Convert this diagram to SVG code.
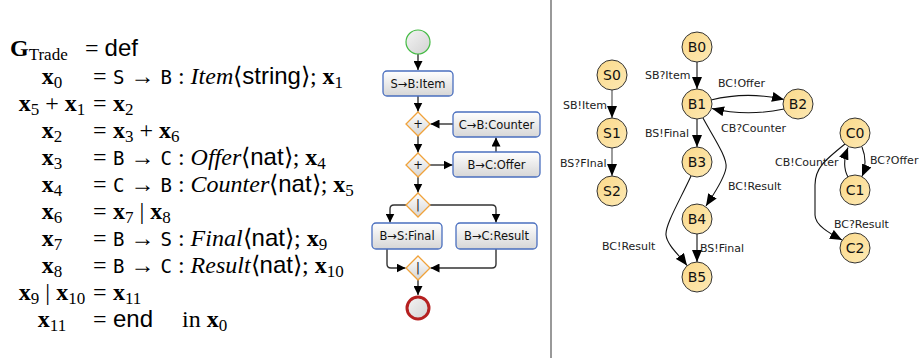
<svg xmlns="http://www.w3.org/2000/svg" width="920" height="361" viewBox="0 0 920 361">
<style>
.m{font-family:"Liberation Serif",serif;font-size:24px;fill:#000}
.b{font-weight:bold}
.sub{font-weight:normal;font-size:17px}
.it{font-style:italic}
.sf{font-family:"Liberation Sans",sans-serif}
.tt{font-family:"DejaVu Sans Mono",monospace;font-size:19px}
.fbox{fill:url(#gbox);stroke:#4a6fbf;stroke-width:1.3}
.dia{fill:url(#gbox);stroke:#f0a23a;stroke-width:1.3}
.ft{font-family:"DejaVu Sans",sans-serif;font-size:11.5px;fill:#111;text-anchor:middle}
.fl{fill:none;stroke:#333;stroke-width:1.4;marker-end:url(#fa)}
.st{fill:url(#gst);stroke:#333;stroke-width:1}
.sl{font-family:"DejaVu Sans",sans-serif;font-size:14px;fill:#111;text-anchor:middle}
.lb{font-family:"DejaVu Sans",sans-serif;font-size:11px;fill:#222}
.e{fill:none;stroke:#111;stroke-width:1.1;marker-end:url(#sa)}
.eg{fill:none;stroke:#666;stroke-width:1.3;marker-end:url(#sa)}
</style>
<defs>
<linearGradient id="gbox" x1="0" y1="0" x2="0" y2="1"><stop offset="0" stop-color="#ffffff"/><stop offset="1" stop-color="#d6d6d6"/></linearGradient>
<linearGradient id="gcirc" x1="0" y1="0" x2="1" y2="1"><stop offset="0" stop-color="#f4f4f4"/><stop offset="1" stop-color="#d2d2d2"/></linearGradient>
<linearGradient id="gst" x1="0" y1="0" x2="1" y2="1"><stop offset="0" stop-color="#fbd98a"/><stop offset="1" stop-color="#fde9b4"/></linearGradient>
<marker id="fa" viewBox="0 0 10 10" refX="10" refY="5" markerWidth="9" markerHeight="9" orient="auto" markerUnits="userSpaceOnUse"><path d="M0,0 L10,5 L0,10 z" fill="#000"/></marker>
<marker id="sa" viewBox="0 0 12 10" refX="12" refY="5" markerWidth="12" markerHeight="10" orient="auto" markerUnits="userSpaceOnUse"><path d="M0,0 L12,5 L0,10 z" fill="#000"/></marker>
</defs>
<rect width="920" height="361" fill="#fff"/>

<g id="equations">
<text x="10" y="56" class="m b">G<tspan class="sub" dy="4">Trade</tspan></text>
<text x="85" y="56" class="m">= <tspan class="sf">def</tspan></text>

<text x="52" y="84" class="m b" text-anchor="middle">x<tspan class="sub" dy="4">0</tspan></text>
<text x="93" y="84" class="m">=</text>
<text x="113" y="84" class="m"><tspan class="tt">S</tspan> → <tspan class="tt">B</tspan> : <tspan class="it">Item</tspan>⟨<tspan class="sf">string</tspan>⟩; <tspan class="b">x</tspan><tspan class="sub" dy="4">1</tspan></text>

<text x="52" y="111" class="m" text-anchor="middle"><tspan class="b">x</tspan><tspan class="sub" dy="4">5</tspan><tspan dy="-4"> + </tspan><tspan class="b">x</tspan><tspan class="sub" dy="4">1</tspan></text>
<text x="93" y="111" class="m">=</text>
<text x="113" y="111" class="m b">x<tspan class="sub" dy="4">2</tspan></text>

<text x="52" y="138" class="m b" text-anchor="middle">x<tspan class="sub" dy="4">2</tspan></text>
<text x="93" y="138" class="m">=</text>
<text x="113" y="138" class="m"><tspan class="b">x</tspan><tspan class="sub" dy="4">3</tspan><tspan dy="-4"> + </tspan><tspan class="b">x</tspan><tspan class="sub" dy="4">6</tspan></text>

<text x="52" y="165" class="m b" text-anchor="middle">x<tspan class="sub" dy="4">3</tspan></text>
<text x="93" y="165" class="m">=</text>
<text x="113" y="165" class="m"><tspan class="tt">B</tspan> → <tspan class="tt">C</tspan> : <tspan class="it">Offer</tspan>⟨<tspan class="sf">nat</tspan>⟩; <tspan class="b">x</tspan><tspan class="sub" dy="4">4</tspan></text>

<text x="52" y="192" class="m b" text-anchor="middle">x<tspan class="sub" dy="4">4</tspan></text>
<text x="93" y="192" class="m">=</text>
<text x="113" y="192" class="m"><tspan class="tt">C</tspan> → <tspan class="tt">B</tspan> : <tspan class="it">Counter</tspan>⟨<tspan class="sf">nat</tspan>⟩; <tspan class="b">x</tspan><tspan class="sub" dy="4">5</tspan></text>

<text x="52" y="219" class="m b" text-anchor="middle">x<tspan class="sub" dy="4">6</tspan></text>
<text x="93" y="219" class="m">=</text>
<text x="113" y="219" class="m"><tspan class="b">x</tspan><tspan class="sub" dy="4">7</tspan><tspan dy="-4"> | </tspan><tspan class="b">x</tspan><tspan class="sub" dy="4">8</tspan></text>

<text x="52" y="246" class="m b" text-anchor="middle">x<tspan class="sub" dy="4">7</tspan></text>
<text x="93" y="246" class="m">=</text>
<text x="113" y="246" class="m"><tspan class="tt">B</tspan> → <tspan class="tt">S</tspan> : <tspan class="it">Final</tspan>⟨<tspan class="sf">nat</tspan>⟩; <tspan class="b">x</tspan><tspan class="sub" dy="4">9</tspan></text>

<text x="52" y="273" class="m b" text-anchor="middle">x<tspan class="sub" dy="4">8</tspan></text>
<text x="93" y="273" class="m">=</text>
<text x="113" y="273" class="m"><tspan class="tt">B</tspan> → <tspan class="tt">C</tspan> : <tspan class="it">Result</tspan>⟨<tspan class="sf">nat</tspan>⟩; <tspan class="b">x</tspan><tspan class="sub" dy="4">10</tspan></text>

<text x="52" y="300" class="m" text-anchor="middle"><tspan class="b">x</tspan><tspan class="sub" dy="4">9</tspan><tspan dy="-4"> | </tspan><tspan class="b">x</tspan><tspan class="sub" dy="4">10</tspan></text>
<text x="93" y="300" class="m">=</text>
<text x="113" y="300" class="m b">x<tspan class="sub" dy="4">11</tspan></text>

<text x="52" y="327" class="m b" text-anchor="middle">x<tspan class="sub" dy="4">11</tspan></text>
<text x="93" y="327" class="m">=</text>
<text x="113" y="327" class="m"><tspan class="sf">end</tspan><tspan x="182">in </tspan><tspan class="b">x</tspan><tspan class="sub" dy="4">0</tspan></text>
</g>

<g id="flow-connectors">
<path class="fl" d="M418,54 L418,70"/>
<path class="fl" d="M418,96 L418,111.5"/>
<path class="fl" d="M453,124 L430.5,124"/>
<path class="fl" d="M418,136 L418,152.5"/>
<path class="fl" d="M430,165 L452.5,165"/>
<path class="fl" d="M496,152 L496,137.5"/>
<path class="fl" d="M418,177 L418,192.5"/>
<path class="fl" d="M406,205 L394,205 Q390,205 390,209 L390,222.5"/>
<path class="fl" d="M430,205 L492,205 Q496,205 496,209 L496,222.5"/>
<path class="fl" d="M387,249 L387,264 Q387,268 391,268 L405.5,268"/>
<path class="fl" d="M496,249 L496,264 Q496,268 492,268 L430.5,268"/>
<path class="fl" d="M418,280 L418,295"/>
</g>

<g id="flow-start"><circle cx="418" cy="42" r="12" fill="url(#gcirc)" stroke="#44bb44" stroke-width="1.2"/></g>
<g id="flow-item"><rect class="fbox" x="383" y="71" width="70" height="25" rx="4"/><text class="ft" x="418" y="87.5">S→B:Item</text></g>
<g id="flow-join1"><path class="dia" d="M418,112 L430,124 L418,136 L406,124 z"/><text class="ft" x="418" y="128">+</text></g>
<g id="flow-counter"><rect class="fbox" x="453" y="112" width="87" height="25" rx="4"/><text class="ft" x="496.5" y="128.5">C→B:Counter</text></g>
<g id="flow-choice"><path class="dia" d="M418,153 L430,165 L418,177 L406,165 z"/><text class="ft" x="418" y="169">+</text></g>
<g id="flow-offer"><rect class="fbox" x="453" y="152" width="87" height="25" rx="4"/><text class="ft" x="496.5" y="168.5">B→C:Offer</text></g>
<g id="flow-fork"><path class="dia" d="M418,193 L430,205 L418,217 L406,205 z"/><text class="ft" x="418" y="209">|</text></g>
<g id="flow-final"><rect class="fbox" x="372" y="223" width="70" height="26" rx="4"/><text class="ft" x="407" y="240">B→S:Final</text></g>
<g id="flow-result"><rect class="fbox" x="456" y="223" width="81" height="26" rx="4"/><text class="ft" x="496.5" y="240">B→C:Result</text></g>
<g id="flow-joinpar"><path class="dia" d="M418,256 L430,268 L418,280 L406,268 z"/><text class="ft" x="418" y="272">|</text></g>
<g id="flow-end"><circle cx="418" cy="308" r="11" fill="url(#gcirc)" stroke="#b52020" stroke-width="3"/></g>

<line x1="551" y1="0" x2="551" y2="358" stroke="#777" stroke-width="1.5"/>

<g id="fsm-connectors">
<path class="eg" d="M612,90 L612,118"/>
<path class="eg" d="M612,148 L612,176"/>
<path class="e" d="M697,62 L697,89"/>
<path class="e" d="M711,100 C735,94 760,94 784,99.5"/>
<path class="e" d="M784,109 C760,114 735,114 712,108.5"/>
<path class="e" d="M697,119 L697,147"/>
<path class="e" d="M703,118 C712,135 728,158 726,168 C724,180 713,195 706,206"/>
<path class="e" d="M691,176 C680,200 665,225 666,235 C667,245 680,256 687,265.5"/>
<path class="e" d="M697,234 L697,262"/>
<path class="e" d="M862,147 C866,157 866,167 862,176.5"/>
<path class="e" d="M848,177 C843,168 844,158 848,147.5"/>
<path class="e" d="M845,144 C825,160 815,168 815,185 L815,215 C815,225 829,233 842,240"/>
<text class="lb" x="563" y="109">SB!Item</text>
<text class="lb" x="560" y="167">BS?FInal</text>
<text class="lb" x="645" y="79">SB?Item</text>
<text class="lb" x="645" y="137">BS!Final</text>
<text class="lb" x="718" y="87">BC!Offer</text>
<text class="lb" x="721" y="132">CB?Counter</text>
<text class="lb" x="728" y="190">BC!Result</text>
<text class="lb" x="602" y="250">BC!Result</text>
<text class="lb" x="700" y="252">BS!Final</text>
<text class="lb" x="775" y="166">CB!Counter</text>
<text class="lb" x="870" y="164">BC?Offer</text>
<text class="lb" x="834" y="228">BC?Result</text>
</g>

<g id="S0"><circle class="st" cx="612" cy="75" r="15"/><text class="sl" x="612" y="80">S0</text></g>
<g id="S1"><circle class="st" cx="612" cy="133" r="15"/><text class="sl" x="612" y="138">S1</text></g>
<g id="S2"><circle class="st" cx="612" cy="191" r="15"/><text class="sl" x="612" y="196">S2</text></g>
<g id="B0"><circle class="st" cx="697" cy="47" r="15"/><text class="sl" x="697" y="52">B0</text></g>
<g id="B1"><circle class="st" cx="697" cy="104" r="15"/><text class="sl" x="697" y="109">B1</text></g>
<g id="B2"><circle class="st" cx="798" cy="104" r="15"/><text class="sl" x="798" y="109">B2</text></g>
<g id="B3"><circle class="st" cx="697" cy="162" r="15"/><text class="sl" x="697" y="167">B3</text></g>
<g id="B4"><circle class="st" cx="697" cy="219" r="15"/><text class="sl" x="697" y="224">B4</text></g>
<g id="B5"><circle class="st" cx="697" cy="277" r="15"/><text class="sl" x="697" y="282">B5</text></g>
<g id="C0"><circle class="st" cx="855" cy="133" r="15"/><text class="sl" x="855" y="138">C0</text></g>
<g id="C1"><circle class="st" cx="855" cy="190" r="15"/><text class="sl" x="855" y="195">C1</text></g>
<g id="C2"><circle class="st" cx="855" cy="248" r="15"/><text class="sl" x="855" y="253">C2</text></g>
</svg>
